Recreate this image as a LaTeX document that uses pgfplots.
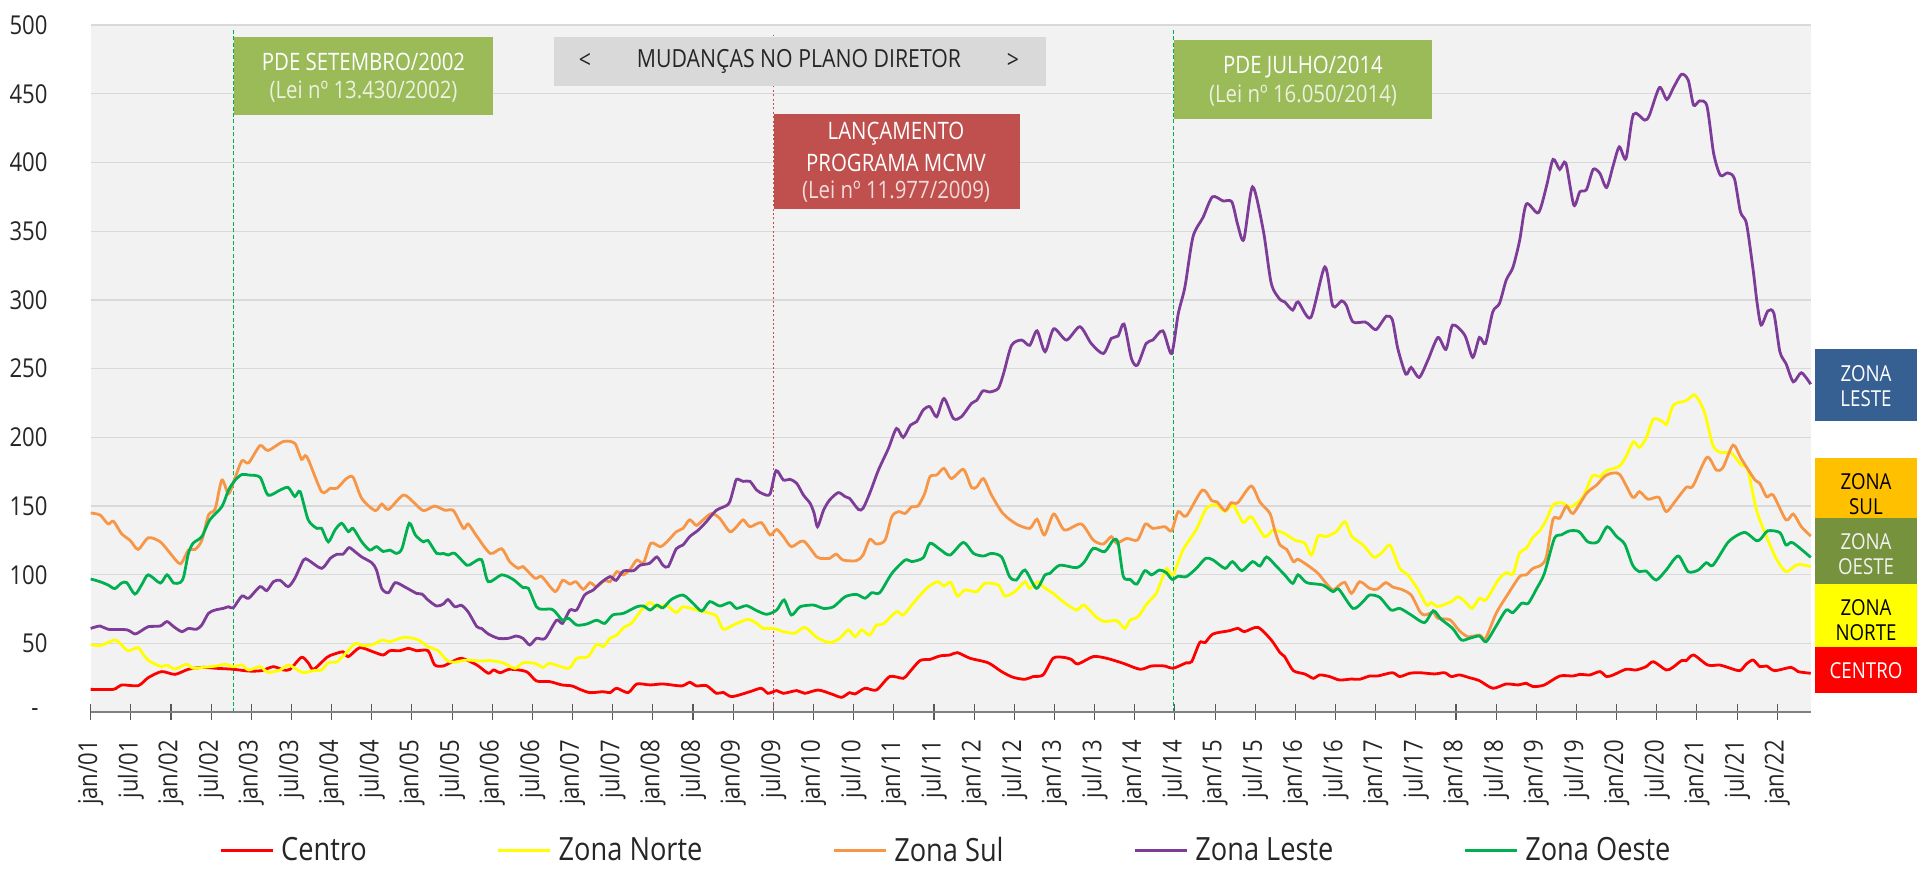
\documentclass[border=0pt]{standalone}
\usepackage{fontspec}
\setmainfont{Open Sans}[FakeStretch=0.85]
\usepackage{pgfplots}
\pgfplotsset{compat=1.18}
\definecolor{cCentro}{HTML}{FF0000}
\definecolor{cNorte}{HTML}{FFFF00}
\definecolor{cSul}{HTML}{F79646}
\definecolor{cLeste}{HTML}{7D3C98}
\definecolor{cOeste}{HTML}{00B050}
\definecolor{plotbg}{HTML}{F2F2F2}
\definecolor{gridc}{HTML}{D9D9D9}
\definecolor{axisc}{HTML}{808080}
\definecolor{boxgreen}{HTML}{9BBB59}
\definecolor{boxred}{HTML}{C0504D}
\definecolor{boxgrey}{HTML}{D9D9D9}
\definecolor{lgreen}{HTML}{EBF1DE}
\definecolor{lred}{HTML}{F2DCDB}
\definecolor{lblLeste}{HTML}{366092}
\definecolor{lblSul}{HTML}{FFC000}
\definecolor{lblOeste}{HTML}{76923C}
\definecolor{lblNorte}{HTML}{FFFF00}
\definecolor{lblCentro}{HTML}{FF0000}
\definecolor{txt}{HTML}{262626}
\begin{document}
\begin{tikzpicture}
\useasboundingbox (0,0) rectangle (958.5pt,434pt);
\begin{axis}[
  at={(45.35pt,77.85pt)}, anchor=south west,
  scale only axis, width=860pt, height=343.65pt,
  xmin=0, xmax=257, ymin=0, ymax=500,
  clip=false,
  axis background/.style={fill=plotbg},
  axis line style={draw=none},
  ymajorgrids, grid style={gridc, line width=0.65pt},
  ytick={0,50,...,500},
  yticklabels={-\hspace*{4.5pt},50,100,150,200,250,300,350,400,450,500},
  ytick style={draw=none},
  yticklabel style={inner sep=0pt, xshift=-17.4pt, font=\fontsize{13}{15}\selectfont, text=txt},
  xtick={0,6,...,252},
  xticklabels={jan/01,jul/01,jan/02,jul/02,jan/03,jul/03,jan/04,jul/04,jan/05,jul/05,jan/06,jul/06,jan/07,jul/07,jan/08,jul/08,jan/09,jul/09,jan/10,jul/10,jan/11,jul/11,jan/12,jul/12,jan/13,jul/13,jan/14,jul/14,jan/15,jul/15,jan/16,jul/16,jan/17,jul/17,jan/18,jul/18,jan/19,jul/19,jan/20,jul/20,jan/21,jul/21,jan/22},
  xtick pos=left,
  tick align=center,
  major tick length=8pt,
  xtick style={black!65, line width=0.55pt},
  xticklabel style={rotate=90, anchor=east, inner sep=0pt, font=\fontsize{13}{15}\selectfont, text=txt},
  xticklabel shift=9.7pt,
  legend columns=5,
  legend image code/.code={\draw[#1] (0pt,0pt) -- (26pt,0pt);},
  legend style={at={(0.0746,-0.2010)}, anchor=west, draw=none, fill=none, inner sep=0pt,
    nodes={inner sep=0pt, font=\fontsize{16}{18}\selectfont, text=txt},
    /tikz/every odd column/.append style={column sep=3.5pt},
    /tikz/every even column/.append style={column sep=65pt}},
  every axis plot/.append style={line width=1.4pt, smooth, tension=0.45},
]
\draw[cOeste, line width=0.6pt, dash pattern=on 2pt off 1.2pt] (axis cs:21.3,0) -- (axis cs:21.3,497);
\draw[boxred, line width=0.6pt, dash pattern=on 1pt off 1.2pt] (axis cs:102,0) -- (axis cs:102,493);
\draw[cOeste, line width=0.6pt, dash pattern=on 2pt off 1.2pt] (axis cs:161.8,0) -- (axis cs:161.8,497);

\addplot[cCentro] coordinates {(0,16.7) (3.4,16.7) (4.6,19.9) (7.1,19.4) (8.6,25.2) (10.6,29.6) (12.6,27.6) (14.6,31.3) (16.8,32.7) (18.8,32) (21.3,31.3) (23.6,30) (25.5,30.3) (27.3,33.2) (28.8,30.8) (29.8,31.3) (31.5,40) (32.5,36) (33.3,31.3) (35.3,40) (36.3,42.2) (37.7,44) (38.5,40.5) (40.2,47) (42.2,44) (43.7,41.7) (44.7,44.8) (46.2,44.8) (47.5,46.5) (48.7,44.8) (50.4,44.8) (51.4,34.4) (52.7,33.7) (53.7,36) (55.4,39.3) (57.7,34.4) (59.4,28.4) (60.2,30.8) (61.2,28.8) (62.6,31.3) (65.1,29.6) (66.6,22.8) (68.6,22.3) (70.4,19.9) (71.9,19.2) (73.1,16.7) (74.6,14.3) (76.6,15) (77.6,14.3) (78.6,17.5) (80.3,14.3) (81.6,20.6) (83.6,19.9) (85.5,20.6) (88.3,19.2) (89.5,21.8) (90.5,19.2) (92,19.4) (93.5,13.8) (94.5,14.5) (95.8,11.4) (98.5,15) (100.2,17.5) (101.2,13.8) (102.5,15.8) (103.5,13.8) (105.5,15.8) (106.7,13.8) (108.7,16.2) (110.7,13.3) (112.2,10.9) (113.4,14.3) (114.2,13.3) (115.7,17.5) (117.4,16.2) (119.4,26) (121.4,24.7) (122.2,28.4) (123.9,37.6) (125.4,38.5) (126.9,41) (128.4,41.7) (129.5,43.4) (131.4,39.3) (134.1,36) (136.1,29.6) (137.8,25.5) (139.6,24) (140.8,26) (142.3,27.2) (143.8,39.3) (145.3,40) (146.5,38.5) (147.5,35.2) (149.8,40.5) (151.8,39.3) (154.3,35.6) (156.8,31.3) (158.5,33.7) (160.5,33.7) (161.7,32) (163.7,36) (164.5,36.8) (165.7,50.7) (166.5,50.7) (167.7,57) (170.2,59.4) (171.4,61.1) (172.4,58.7) (174.4,61.8) (176.4,52.6) (177.7,43.4) (178.4,40.5) (179.7,30.3) (181.4,27.9) (182.7,24.7) (183.6,27.2) (185.1,26) (186.6,23.5) (188.4,24.2) (189.6,24) (191.1,26.4) (192.3,26.4) (194.5,28.8) (195.6,26) (197.1,28.4) (198.6,28.8) (200.8,27.9) (202.3,28.8) (203.3,26) (204.5,27.2) (206,25.2) (207.5,23) (209.5,17.5) (211.5,20.6) (213.3,19.9) (214.5,21.1) (215.5,18.7) (217.2,19.9) (219.5,26.4) (221.5,26.4) (222.5,27.6) (224,27.2) (225.5,29.6) (226.5,26) (227.5,27.2) (229.4,31.3) (230.9,30.8) (232.4,33.2) (233.5,36.8) (235.4,30.8) (236.4,32.7) (237.7,37.6) (238.4,37.6) (239.5,41.7) (241.6,34.4) (243.4,34.4) (244.6,32.7) (246.4,30.3) (247.4,35.2) (248.4,38) (249.4,33.2) (250.4,33.7) (251.6,30.3) (254.1,32.7) (255.1,29.6) (257,28.4)};
\addlegendentry{Centro}

\addplot[cNorte] coordinates {(0,49.5) (1.4,48.5) (3.6,52.6) (4.6,49) (5.6,44.8) (7.1,47) (7.9,41.7) (8.9,36.8) (10.6,33.2) (11.4,34.4) (12.6,31.5) (14.3,35) (15.3,32) (16.8,32.7) (18.8,33.7) (20.1,35) (21.3,33.2) (22.6,34.4) (23.6,30.8) (25.3,33.2) (26.5,29) (28.3,30.8) (29.5,34.4) (30.5,32) (31.8,28.8) (33.3,30.3) (34.5,30.8) (35.5,36) (36.8,36.8) (38,42.4) (39.5,50) (40.7,48.5) (42,49) (43,51.4) (43.7,52.6) (44.7,51.4) (46.7,54.5) (48.2,53.8) (49.2,52) (50.4,47.8) (51.9,44.8) (53.2,38) (54.2,36.4) (56.2,38) (58.2,37.3) (59.7,37.6) (61.6,36) (63.4,32) (64.6,36) (66.4,35.6) (67.6,32.7) (68.6,35.6) (71.4,32) (72.6,39.3) (74.3,40.5) (75.6,49.5) (76.6,47.8) (77.6,53.8) (78.6,56.2) (79.8,62.3) (80.8,64.7) (82.3,74.4) (83.6,79.8) (84.6,76.4) (86,78) (87.5,72.5) (88.5,76.8) (90.5,74.4) (92,72.7) (93.5,70) (94.5,60.4) (96,63.5) (98.2,67.6) (99.5,64.7) (100.5,61) (102,61) (103.5,58.7) (105.2,57.5) (106.7,61.8) (108.5,54.5) (110.4,50.7) (111.9,53.8) (113.2,59.9) (114.2,55) (115.2,59.9) (116.4,56.2) (117.4,63.5) (118.4,64.2) (120.4,73.2) (121.4,70.8) (122.9,79.3) (124.9,90.2) (126.5,95) (127.5,92) (128.5,94.5) (129.5,84.6) (130.6,89) (132.4,87.8) (133.6,93.8) (135.6,92.6) (136.6,84.6) (138.1,87.8) (139.6,95) (140.3,90.2) (141.6,95) (142.3,91.4) (143.8,86.5) (145.3,80.5) (147.3,74.4) (148.4,78) (150.3,69) (151.5,66) (153.3,66.7) (154.5,61) (155.3,67) (156.5,69.6) (157.8,78.8) (159.2,86.5) (160.2,98.7) (160.8,104.7) (161.7,99.9) (163.2,118) (165.2,133) (166.7,148.4) (168.2,150.8) (169.5,146) (170.7,150.8) (172.2,138) (173.4,142.3) (175.4,127.8) (176.7,132.6) (178.4,130) (179.9,125.3) (181.4,123) (182.4,114.4) (183.4,128.2) (184.6,127.8) (186.1,131.4) (187.4,138.7) (188.4,128.2) (190.1,121.7) (191.1,116) (191.8,112.7) (192.8,115.6) (193.8,121) (194.3,120.5) (195.6,104.7) (196.8,100) (198.3,89.5) (199.6,78) (200.3,79.8) (201.3,77) (203.3,80.5) (204.3,84) (205.5,79.8) (206.4,75.6) (207.5,82.9) (208.3,81.2) (209,85.3) (210.3,96.2) (211.5,101.6) (212.5,100.6) (213.5,116) (214.5,119.3) (215.5,127.3) (216.5,132) (217.5,140) (218.5,150.8) (219.7,152.5) (221,149.6) (221.7,150.8) (223,157) (224.4,172) (225.5,171.4) (226.5,175.8) (228.4,179) (229.4,186) (230.5,196.8) (231.4,192.7) (232.4,199.3) (233.5,213.3) (234.9,211.4) (235.5,209.7) (236.5,223.5) (238.4,226.7) (239.7,230.8) (241.1,218.7) (242.4,194) (243.6,189) (245.1,188.8) (246.6,180) (247.6,176.2) (248.9,147) (250.4,127.8) (251.9,111.3) (253.3,102.3) (254.6,106.4) (255.4,107.6) (257,106)};
\addlegendentry{Zona Norte}

\addplot[cSul] coordinates {(0,145) (1.4,143.5) (2.6,137) (3.4,139) (4.6,130) (5.9,125) (7.1,118.5) (8.6,127) (10.4,124) (11.9,115.6) (13.4,108) (14.6,118) (15.6,118.5) (16.6,125) (17.6,143.5) (18.6,148) (19.6,169) (20.6,159) (21.6,171) (22.6,183) (23.6,181.5) (25.3,194) (26.5,190.5) (28.8,197) (30.5,195.6) (31.5,184) (32.3,186) (34.5,160.5) (35.8,163) (36.8,163) (38.2,170) (39.2,171) (40.5,155.6) (42.5,146.7) (43.5,151.5) (44.5,147.6) (46.7,158) (48.2,153) (49.7,146.7) (51.4,150) (52.9,147) (54.2,146.7) (55.7,133.8) (56.4,137) (57.7,128) (59.7,115.6) (61.4,119) (62.6,109.6) (63.9,104.7) (64.6,106) (66.4,97.5) (67.4,98.7) (69.4,87.8) (70.5,96) (71.6,93.3) (72.5,95) (73.6,89.5) (74.6,94.3) (75.6,91.4) (76.8,96) (77.6,95) (78.6,102.3) (79.6,100) (80.6,104) (81.6,110.8) (82.6,108.8) (83.7,123) (85.1,120.5) (86.1,124) (87.5,131.4) (88.5,133.8) (89.5,140) (90.5,136) (91.5,140) (92.8,144.7) (94,141) (95.5,131.4) (96.5,135) (97.5,140) (98.5,135) (100.2,138) (101.5,129) (102.5,133) (103.5,127.8) (104.7,120.5) (106.5,124.6) (108.5,113) (109.5,112) (110.4,112) (111.4,115) (112.4,110.8) (114.4,110.3) (115.4,114.4) (116.4,125.8) (117.4,122.4) (118.7,125.3) (119.7,142.3) (120.7,146) (121.7,144.7) (122.7,149.6) (123.6,150) (124.6,159) (125.4,171.4) (126.4,172.6) (127.5,177.5) (128.6,170) (130.4,176.7) (131.6,163.6) (132.4,164) (133.4,170) (134.6,158) (136.3,144.7) (138.3,137) (140.3,133.8) (141.4,140.4) (142.5,129) (143.9,144.2) (145.5,132.6) (148,137) (149.8,125.3) (151.3,122.4) (152.5,127.8) (153.3,123) (154.8,126.5) (156.4,125.3) (157.6,137) (158.7,133.8) (160.5,135) (161.5,132) (162.5,146) (163.7,142.8) (166.1,161.7) (167.5,154) (168.3,153) (169.5,146.7) (170.4,152.5) (171.4,152.5) (173.4,164.6) (174.7,153) (176.2,144.7) (176.9,132.6) (177.7,121.7) (178.7,118.5) (179.7,109.6) (180.4,111.3) (182.1,106) (183.4,101) (184.4,95) (185.6,89) (186.6,92.6) (187.4,94.5) (188.4,86.5) (189.6,95) (191.1,90.2) (192.2,89.5) (193.5,94.3) (194.6,91) (195.8,89.5) (197.3,85.3) (198.6,73.2) (199.3,70.8) (200.6,72.5) (201.3,68.4) (203.1,67.2) (204.5,59.4) (205.8,55) (207.5,56.2) (208.4,53.8) (210,72) (211.5,84) (213.5,98.7) (214.5,100) (215.5,104.7) (216.7,107) (217.5,113) (218.5,140.4) (219.5,141.2) (220.5,150) (221.5,144.7) (223.5,159.3) (225,165.3) (226.5,172.6) (228.4,173.3) (230.4,156.4) (231.4,160.5) (232.7,155) (234.3,156.4) (235.4,146) (236.7,153.2) (238.4,163.6) (239.4,164.6) (241.5,185.5) (242.9,176.2) (243.9,178.2) (245.4,194.4) (246.6,184.7) (248.6,169.5) (249.4,166.5) (250.4,156.8) (251.4,158) (253.3,140) (254.4,144.2) (255.6,135) (257,128.2)};
\addlegendentry{Zona Sul}

\addplot[cLeste] coordinates {(0,61) (1.4,62.8) (2.6,60.4) (5.4,60) (6.6,57) (7.6,59.4) (8.6,62.3) (10.4,62.8) (11.4,66) (12.4,62.3) (13.6,58.7) (14.6,61) (15.8,60.4) (16.6,63.5) (17.6,72) (18.6,74.4) (19.8,75.6) (20.6,76.8) (21.3,76) (22.6,84.6) (23.6,83) (25.3,91.4) (26.3,88.5) (27.3,95) (28.3,96) (29.5,91.4) (30.5,97.5) (31.8,110.8) (32.5,110.8) (34.5,104.7) (35.8,112) (36.8,115) (37.7,115) (38.6,119.8) (39.5,116.8) (40.5,113) (42,108.8) (42.7,103.5) (43.5,90) (44.5,87) (45.5,94.3) (47,91) (48.7,86.5) (49.5,86) (50.4,81.7) (51.7,77.3) (52.7,78.8) (53.4,82) (54.4,76.8) (55.4,77.8) (56.4,73) (57.7,62.3) (58.4,61) (59.4,57) (60.9,53.8) (62.4,53.8) (63.6,55.5) (64.6,53.8) (65.6,49) (66.6,53.8) (67.9,53.8) (69.6,67) (70.5,64.7) (71.6,74.4) (72.6,74.4) (73.8,85.3) (75.1,89) (76.1,93.8) (77.6,98.7) (78.5,96) (79.6,102.8) (81.1,103) (82.1,107) (83.5,108.4) (84.6,113) (85.5,107) (86.3,106) (87.5,119) (88.5,121.7) (89.5,127.8) (90.8,132.6) (92,138.7) (93.5,147) (95.3,151.5) (96,161.7) (96.5,169.5) (97.5,168) (98.5,168) (99.5,161.7) (100.5,158.8) (101.5,158.8) (102.4,175.8) (103.5,169) (104.5,169.5) (105.5,166.5) (106.5,158) (107.5,152) (108.1,144.7) (108.6,135) (109.5,147) (110.4,154.4) (111.7,159.8) (112.7,157) (113.4,155.6) (114.7,147.6) (115.4,148.4) (116.4,159.3) (117.7,176.2) (119.2,192) (120.4,206.5) (121.4,200) (122.5,209) (123.4,211.4) (124.4,220) (125.4,222.3) (126.4,215) (127.5,228.3) (128.9,213.8) (130.1,215) (131.6,224.7) (132.4,227) (133.3,233.8) (134.3,233) (135.6,235.6) (136.4,246.5) (137.6,267) (139.1,270.8) (140.3,267) (141.4,277.5) (142.6,262.3) (143.9,279) (145.8,270.8) (147.8,280.5) (149.5,268.3) (151.3,261) (152.5,272) (153.5,273.7) (154.4,282.4) (155.5,257.4) (156.4,252.6) (157.7,268.3) (158.7,270.8) (160.2,277.5) (161.5,261) (162.5,290) (163.5,309.5) (164.7,345.9) (166.2,360) (167.6,375) (169.2,372) (170.5,371.4) (171.4,354.4) (172.3,344) (173.6,382.3) (175.2,350.7) (176.4,312) (177.7,300.3) (178.4,298.6) (179.6,292.6) (180.4,298.6) (182.3,287.2) (184.4,324) (185.6,295.5) (186.9,299.3) (187.6,296.2) (188.6,284) (190.4,284) (191.1,281.7) (192.1,278.5) (193.6,288.2) (194.5,285.3) (195.3,264.7) (196.5,246) (197.3,250.9) (198.5,243.6) (199.8,256.2) (201.3,272.7) (202.5,264) (203.5,281.7) (205.3,274.4) (206.5,258.2) (207.5,272.7) (208.4,268.3) (209.5,291.4) (210.5,297.5) (211.5,314.4) (212.5,323.6) (213.5,343) (214.5,369.7) (216.3,363.4) (217.5,382.3) (218.5,402.2) (219.5,395) (220.4,399.7) (221.6,369) (222.5,378.6) (223.5,380.3) (224.5,395) (225.5,392) (226.5,381.8) (227.5,398) (228.4,411.4) (229.4,402.9) (230.5,435) (232.2,430.8) (232.9,434.4) (234.4,454.5) (235.5,445.8) (236.5,454.5) (237.7,464.2) (238.7,459.8) (239.5,441.7) (240.4,444.8) (241.5,441) (242.5,406.5) (243.5,390.7) (244.6,392.4) (245.6,388.3) (246.5,364) (247.4,355.6) (248.4,321.7) (249,297.4) (249.6,281.7) (250.6,292) (251.5,290.2) (252.4,262.2) (253.3,253.8) (254.4,240.4) (255.6,247) (257,238.7)};
\addlegendentry{Zona Leste}

\addplot[cOeste] coordinates {(0,97) (1.4,95) (2.6,92.6) (3.6,90) (4.6,94) (5.4,94.3) (6.6,86) (7.6,92.6) (8.6,100) (10.4,94) (11.4,100) (12.4,94) (13.4,94.5) (13.9,98.7) (14.6,115.6) (15.3,123) (16.6,127.8) (17.8,140) (19.6,149.6) (20.6,161.7) (21.6,169) (22.6,173) (23.6,172.6) (25.3,171) (26.5,158) (28.3,161.7) (29.5,163.6) (30.5,157) (31.3,160.5) (32.5,140) (33.8,133.8) (34.5,133.8) (35.5,124) (36.5,132.6) (37.5,137.5) (38.5,131.4) (39.2,133.8) (40.5,124) (41.7,118) (42.7,120.5) (43.7,117) (44.7,118) (45.7,115.6) (46.5,119) (47.6,137.5) (48.5,129) (49.7,124) (50.4,125) (51.7,115.6) (52.7,115.6) (53.4,114.4) (54.4,115.6) (56.2,107) (57,108.4) (58.4,111) (59.4,95) (61.4,100) (63.1,96.7) (64.6,90.7) (65.4,90.2) (66.6,76.8) (67.4,75) (68.9,75) (69.6,72) (70.5,67) (71.4,68.4) (72.6,63.5) (74.1,64.2) (75.6,67) (76.8,64.7) (78,70.8) (79.6,72) (81.6,76.8) (82.6,77.3) (83.6,74.4) (84.6,78) (85.5,76) (86.8,82.2) (88.5,85.3) (90,79.3) (91.3,73.7) (92.5,80.5) (94,77.3) (95.5,79.8) (96.5,75.6) (98,77.6) (99.5,74) (101,71.3) (102.5,74.4) (103.6,81.7) (104.7,70.8) (106,76.8) (108,78) (109.5,75.6) (111,76.8) (112.7,84) (114.4,85.8) (115.7,83) (116.7,87) (117.9,87) (119.7,101) (121.7,110.8) (122.7,109.6) (124.4,112.5) (125.4,123) (126.9,118.5) (128.4,114.4) (130.4,123.6) (131.9,115.6) (133.4,113.7) (134.6,115.6) (136.1,113) (137.3,98.7) (138.3,96.2) (139.6,103.5) (141.3,90.2) (142.6,100) (143.3,101) (144.8,107) (147.3,105.2) (148.5,109.6) (149.8,119.3) (151.5,116.8) (152.8,125.3) (153.5,123.4) (154.3,98.7) (155.3,96.7) (156.3,93.3) (157.5,103) (158.5,100) (159.7,103.5) (160.7,101.6) (161.6,96.7) (162.5,99) (163.7,98.7) (165.2,104.7) (166.6,112) (167.7,110.8) (169.5,104.7) (170.6,109.6) (172,103) (173.6,109.6) (174.7,106.4) (175.7,113) (177.2,106) (178.4,100) (179.6,93.8) (180.4,100) (181.7,94.3) (184.1,92.6) (185.6,87.8) (186.5,89.5) (188.6,75.6) (190.1,80.5) (191.1,85.3) (192.6,83.6) (194.3,74.4) (195.6,75.6) (197.3,70.8) (199.3,65.2) (200.6,73.9) (201.8,67.6) (203.5,61) (204.8,52.6) (206,53.8) (207.5,55.5) (208.5,51.4) (210,62.8) (211.5,74.4) (212.5,72.5) (213.8,79.3) (214.8,79.3) (216,89.5) (217.2,101) (218.7,126.5) (219.7,129) (221,132) (222.4,131.4) (223.7,124) (225.2,124) (226.6,135) (228,127.8) (229.2,122.4) (230.4,107) (231.4,102.3) (232.4,102.8) (233.9,96.2) (235.4,103.5) (237.2,113.7) (238.7,102.3) (240.2,103.5) (241.4,108.8) (242.4,107) (244.6,123.4) (246.1,129) (247.3,130.7) (248.9,124.8) (249.6,126.5) (250.6,132) (252.4,130.7) (253.3,121.7) (254.3,123.4) (257,112.7)};
\addlegendentry{Zona Oeste}

\draw[axisc, line width=0.85pt] (axis cs:0,0) -- (axis cs:257,0);
\end{axis}

\begin{scope}[x=0.5pt, y=-0.5pt, shift={(0pt,434pt)}]
  % PDE 2002
  \fill[boxgreen] (233.5,37) rectangle (493,115);
  \node[text=white, font=\fontsize{12}{14}\selectfont] at (363.5,62) {PDE SETEMBRO/2002};
  \node[text=lgreen, font=\fontsize{12}{14}\selectfont] at (363.5,92) {(Lei nº 13.430/2002)};
  % Mudancas
  \fill[boxgrey] (554,37) rectangle (1046,86);
  \node[text=txt, font=\fontsize{12.5}{14}\selectfont] at (585,61) {<};
  \node[text=txt, font=\fontsize{12.5}{14}\selectfont] at (799,61) {MUDANÇAS NO PLANO DIRETOR};
  \node[text=txt, font=\fontsize{12.5}{14}\selectfont] at (1013,61) {>};
  % MCMV
  \fill[boxred] (773.7,114) rectangle (1020,209);
  \node[text=white, font=\fontsize{12}{14}\selectfont] at (896,134) {LANÇAMENTO};
  \node[text=white, font=\fontsize{12}{14}\selectfont] at (896,163) {PROGRAMA MCMV};
  \node[text=lred, font=\fontsize{12}{14}\selectfont] at (896,192) {(Lei nº 11.977/2009)};
  % PDE 2014
  \fill[boxgreen] (1173.5,40) rectangle (1432,119);
  \node[text=white, font=\fontsize{12}{14}\selectfont] at (1303,67) {PDE JULHO/2014};
  \node[text=lgreen, font=\fontsize{12}{14}\selectfont] at (1303,96) {(Lei nº 16.050/2014)};
  % right labels
  \fill[lblLeste] (1815,349) rectangle (1917,420.7);
  \node[text=white, align=center, font=\fontsize{11}{12.5}\selectfont] at (1866,385.8) {ZONA\\LESTE};
  \fill[lblSul] (1815,458) rectangle (1917,517.7);
  \node[text=black, align=center, font=\fontsize{11}{12.5}\selectfont] at (1866,494.5) {ZONA\\SUL};
  \fill[lblOeste] (1815,517.7) rectangle (1917,583.7);
  \node[text=plotbg, align=center, font=\fontsize{11}{12.5}\selectfont] at (1866,554.2) {ZONA\\OESTE};
  \fill[lblNorte] (1815,583.7) rectangle (1917,646.7);
  \node[text=black, align=center, font=\fontsize{11}{12.5}\selectfont] at (1866,620) {ZONA\\NORTE};
  \fill[lblCentro] (1815,646.7) rectangle (1917,692.7);
  \node[text=white, font=\fontsize{11}{12.5}\selectfont] at (1866,670.5) {CENTRO};
\end{scope}
\end{tikzpicture}
\end{document}
